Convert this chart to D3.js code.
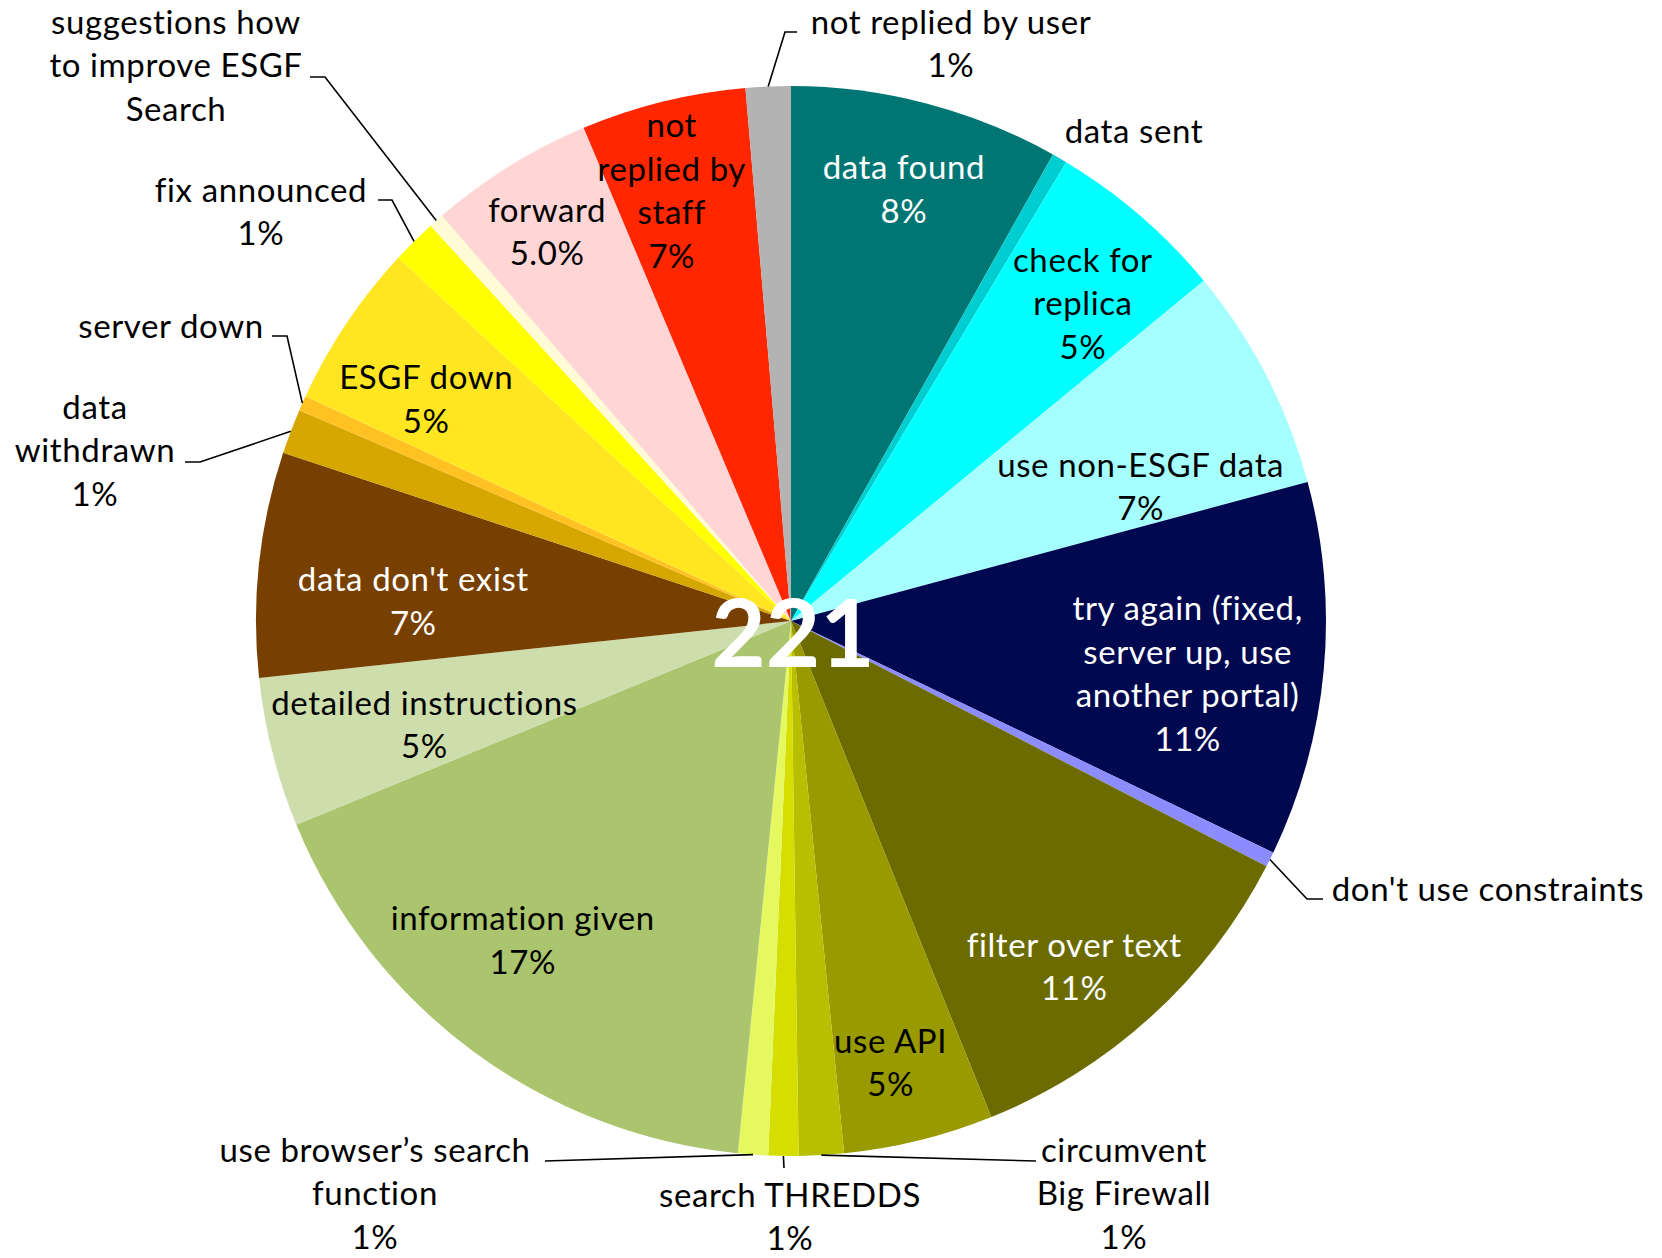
<!DOCTYPE html>
<html>
<head>
<meta charset="utf-8">
<title>ESGF support replies</title>
<script src="https://cdnjs.cloudflare.com/ajax/libs/d3/7.8.5/d3.min.js"></script>
<style>
body { margin: 0; background: #fff; }
svg text { font-family: Lato, "Open Sans", sans-serif; font-size: 33px; letter-spacing: 0.6px; fill: #000; }
</style>
</head>
<body>
<svg id="chart"></svg>
<script>
// slices, clockwise from 12 o'clock
var categories = ["data found", "data sent", "check for replica", "use non-ESGF data",
	"try again (fixed, server up, use another portal)", "don't use constraints", "filter over text",
	"use API", "circumvent Big Firewall", "search THREDDS", "use browser\u2019s search function",
	"information given", "detailed instructions", "data don't exist", "data withdrawn", "server down",
	"ESGF down", "fix announced", "suggestions how to improve ESGF Search", "forward",
	"not replied by staff", "not replied by user"];
var counts = [18, 1, 12, 15, 25, 1, 25, 10, 3, 2, 2, 38, 10, 15, 3, 1, 11, 3, 1, 11, 11, 3];
var pctLabels = ["8%", "", "5%", "7%", "11%", "", "11%", "5%", "1%", "1%", "1%", "17%", "5%", "7%",
	"1%", "", "5%", "1%", "", "5.0%", "7%", "1%"];
var colors = ["#007674", "#00CDD0", "#00FFFF", "#A6FFFF", "#000850", "#8C8CFF", "#6B6B00", "#999900",
	"#B7BF00", "#D6DE00", "#E6F860", "#ABC46E", "#CDDDAC", "#784000", "#D6A700", "#FFC222",
	"#FFE621", "#FFFF00", "#FFFBD6", "#FFD5D5", "#FF2600", "#B3B3B3"];
var totalLabel = "221";

// how each label text is broken into lines
var wraps = {
	"check for replica": ["check for", "replica"],
	"try again (fixed, server up, use another portal)": ["try again (fixed,", "server up, use", "another portal)"],
	"circumvent Big Firewall": ["circumvent", "Big Firewall"],
	"use browser\u2019s search function": ["use browser\u2019s search", "function"],
	"data withdrawn": ["data", "withdrawn"],
	"suggestions how to improve ESGF Search": ["suggestions how", "to improve ESGF", "Search"],
	"not replied by staff": ["not", "replied by", "staff"]
};

// labels inside the pie: [angle in degrees, radius fraction, white text?]
var inside = {
	"data found": [14.65, 0.834, true],
	"check for replica": [42.6, 0.806, false],
	"use non-ESGF data": [69, 0.70, false],
	"try again (fixed, server up, use another portal)": [97.6, 0.748, true],
	"filter over text": [140.7, 0.836, true],
	"use API": [167.3, 0.847, false],
	"information given": [220, 0.78, false],
	"detailed instructions": [254.2, 0.712, false],
	"data don't exist": [273, 0.707, true],
	"ESGF down": [301.3, 0.798, false],
	"forward": [327.9, 0.858, false],
	"not replied by staff": [344.5, 0.834, false]
};

// labels outside: text offset from centre, leader points after the arc edge
var outside = {
	"not replied by user": {t: [160, -599], l: [[-6, -589], [6, -589]]},
	"data sent": {t: [343, -490], l: []},
	"don't use constraints": {t: [697, 268], l: [[516, 278], [532, 278]]},
	"circumvent Big Firewall": {t: [333, 529], l: [[245, 540]]},
	"search THREDDS": {t: [-1, 574], l: [[-7, 547]]},
	"use browser\u2019s search function": {t: [-416, 529], l: [[-246, 540]]},
	"data withdrawn": {t: [-696, -214], l: [[-591, -159], [-606, -159]]},
	"server down": {t: [-620, -295], l: [[-504, -285], [-519, -285]]},
	"fix announced": {t: [-530, -431], l: [[-399, -421], [-413, -421]]},
	"suggestions how to improve ESGF Search": {t: [-615, -599], l: [[-466, -544], [-481, -544]]}
};

var width = 1662, height = 1258;
var cx = 791, cy = 621, R = 535;
var lineH = 43.5;

var svg = d3.select("#chart").attr("width", width).attr("height", height);
var g = svg.append("g").attr("transform", "translate(" + cx + "," + cy + ")");

var rows = categories.map(function(c, i) {
	return {name: c, count: counts[i], pct: pctLabels[i], color: colors[i]};
});

var pie = d3.pie().sort(null).value(function(d) { return d.count; });
var arc = d3.arc().innerRadius(0).outerRadius(R);
var arcs = pie(rows);

g.selectAll("path.slice")
	.data(arcs)
	.enter()
	.append("path")
	.attr("class", "slice")
	.attr("d", arc)
	.attr("fill", function(d) { return d.data.color; });

function polar(a, r) {
	return [r * Math.sin(a), -r * Math.cos(a)];
}

function linesOf(d) {
	var l = (wraps[d.name] || [d.name]).slice();
	if (d.pct) l.push(d.pct);
	return l;
}

// inside labels
arcs.forEach(function(a) {
	var p = inside[a.data.name];
	if (!p) return;
	var pos = polar(p[0] * Math.PI / 180, p[1] * R);
	var lines = linesOf(a.data);
	var y0 = pos[1] - (lines.length - 1) * lineH / 2;
	var t = g.append("text")
		.attr("text-anchor", "middle")
		.style("fill", p[2] ? "#fff" : "#000");
	lines.forEach(function(s, k) {
		t.append("tspan").attr("x", pos[0]).attr("y", y0 + k * lineH).attr("dy", "0.35em").text(s);
	});
});

// outside labels with leader lines
var line = d3.line();
arcs.forEach(function(a) {
	var o = outside[a.data.name];
	if (!o) return;
	if (o.l.length) {
		var start = polar((a.startAngle + a.endAngle) / 2, R);
		g.append("path")
			.attr("d", line([start].concat(o.l)))
			.attr("fill", "none")
			.attr("stroke", "#000")
			.attr("stroke-width", 1.6);
	}
	var lines = linesOf(a.data);
	var t = g.append("text").attr("text-anchor", "middle");
	lines.forEach(function(s, k) {
		t.append("tspan").attr("x", o.t[0]).attr("y", o.t[1] + k * lineH).attr("dy", "0.35em").text(s);
	});
});

// total in the middle
g.append("text")
	.attr("text-anchor", "middle")
	.attr("x", 2)
	.attr("y", 46)
	.style("font-size", "94px")
	.style("font-weight", "bold")
	.style("letter-spacing", "0px")
	.style("fill", "#fff")
	.text(totalLabel);
</script>
</body>
</html>
